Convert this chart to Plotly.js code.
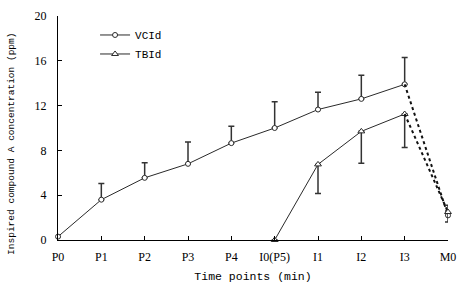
<!DOCTYPE html>
<html><head><meta charset="utf-8">
<script src="https://cdn.plot.ly/plotly-3.0.1.min.js"></script>
<style>html,body{margin:0;padding:0;background:#fff}#chart{width:463px;height:291px}</style>
</head><body><div id="chart"></div>
<script>
const categories = ["P0","P1","P2","P3","P4","I0(P5)","I1","I2","I3","M0"];
const vciMean = [0.3, 3.6, 5.55, 6.8, 8.65, 10.0, 11.65, 12.6, 13.9, 2.2];
const vciErrUp = [0, 1.45, 1.35, 1.95, 1.5, 2.35, 1.55, 2.1, 2.4, 0.9];
const tbiCats = ["I0(P5)","I1","I2","I3","M0"];
const tbiMean = [0, 6.75, 9.7, 11.25, 2.5];
const tbiErrDown = [0, 2.6, 2.85, 3.0, 0.9];
const yTicks = [0, 4, 8, 12, 16, 20];

const n = vciMean.length;
const m = tbiMean.length;

const lineCol = '#2a2a2a';
const traces = [
  {x: categories.slice(0, n-1), y: vciMean.slice(0, n-1), name: 'VCId', type: 'scatter', mode: 'lines+markers',
   line: {color: lineCol, width: 1},
   marker: {symbol: 'circle', size: 5, color: '#fff', line: {color: lineCol, width: 1}},
   error_y: {type: 'data', symmetric: false, array: vciErrUp.slice(0, n-1), arrayminus: vciErrUp.slice(0, n-1).map(() => 0), color: '#333', thickness: 1.5, width: 3},
   cliponaxis: false},
  {x: tbiCats.slice(0, m-1), y: tbiMean.slice(0, m-1), name: 'TBId', type: 'scatter', mode: 'lines+markers',
   line: {color: lineCol, width: 1},
   marker: {symbol: 'triangle-up', size: 6, color: '#fff', line: {color: lineCol, width: 1}},
   error_y: {type: 'data', symmetric: false, array: tbiErrDown.slice(0, m-1).map(() => 0), arrayminus: tbiErrDown.slice(0, m-1), color: '#333', thickness: 1.5, width: 3},
   cliponaxis: false},
  {x: [categories[n-2], categories[n-1]], y: [vciMean[n-2], vciMean[n-1]], type: 'scatter', mode: 'lines',
   line: {color: '#111', width: 2, dash: 'dot'}, showlegend: false, hoverinfo: 'skip'},
  {x: [tbiCats[m-2], tbiCats[m-1]], y: [tbiMean[m-2], tbiMean[m-1]], type: 'scatter', mode: 'lines',
   line: {color: '#111', width: 2, dash: 'dot'}, showlegend: false, hoverinfo: 'skip'},
  {x: [categories[n-1]], y: [vciMean[n-1]], type: 'scatter', mode: 'markers', showlegend: false,
   marker: {symbol: 'circle', size: 5, color: '#fff', line: {color: lineCol, width: 1}},
   error_y: {type: 'data', symmetric: false, array: [vciErrUp[n-1]], arrayminus: [0], color: '#333', thickness: 1.5, width: 3},
   cliponaxis: false},
  {x: [tbiCats[m-1]], y: [tbiMean[m-1]], type: 'scatter', mode: 'markers', showlegend: false,
   marker: {symbol: 'triangle-up', size: 6, color: '#fff', line: {color: lineCol, width: 1}},
   error_y: {type: 'data', symmetric: false, array: [0], arrayminus: [tbiErrDown[m-1]], color: '#333', thickness: 1.5, width: 3},
   cliponaxis: false}
];

const layout = {
  width: 463, height: 291,
  margin: {l: 58, r: 15, t: 16, b: 51},
  paper_bgcolor: '#fff', plot_bgcolor: '#fff',
  showlegend: true,
  legend: {x: 0.095, y: 0.98, xanchor: 'left', yanchor: 'top', bgcolor: 'rgba(0,0,0,0)',
    font: {family: 'Liberation Mono', size: 11, color: '#000'}, tracegroupgap: 0, itemwidth: 30},
  xaxis: {type: 'category', categoryorder: 'array', categoryarray: categories,
    range: [0, categories.length - 1], showline: true, linecolor: '#000', linewidth: 1,
    ticks: 'inside', ticklen: 4, tickcolor: '#000', showgrid: false, zeroline: false,
    tickfont: {family: 'Liberation Serif', size: 12, color: '#000'}, ticklabelstandoff: 6,
    title: {text: 'Time points (min)', font: {family: 'Liberation Mono', size: 11.5, color: '#000'}, standoff: 8}},
  yaxis: {range: [0, 20], tickvals: yTicks, ticktext: yTicks.map(String),
    showline: true, linecolor: '#000', linewidth: 1,
    ticks: 'inside', ticklen: 4, tickcolor: '#000', showgrid: false, zeroline: false,
    tickfont: {family: 'Liberation Serif', size: 12, color: '#000'}, ticklabelstandoff: 8},
  annotations: [{text: 'Inspired compound A concentration (ppm)', xref: 'paper', yref: 'paper',
    x: -0.12, y: 0.43, xanchor: 'center', yanchor: 'middle', textangle: -90, showarrow: false,
    font: {family: 'Liberation Mono', size: 9.5, color: '#000'}}]
};
Plotly.newPlot('chart', traces, layout, {displayModeBar: false, staticPlot: true});
</script></body></html>
